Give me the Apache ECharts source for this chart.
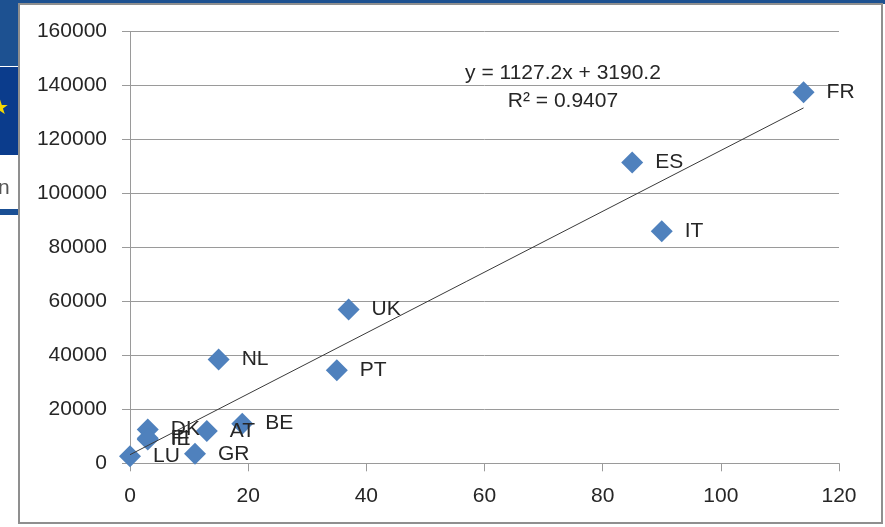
<!DOCTYPE html>
<html>
<head>
<meta charset="utf-8">
<script src="https://cdn.jsdelivr.net/npm/echarts@6/dist/echarts.min.js"></script>
<style>
html,body{margin:0;padding:0;background:#fff;}
#chart{width:885px;height:527px;}
</style>
</head>
<body>
<div id="chart"></div>
<script>
// Data
const countries = ['FR', 'ES', 'IT', 'UK', 'PT', 'NL', 'BE', 'AT', 'GR', 'DK', 'FI', 'IE', 'LU'];
const xValues   = [114, 85, 90, 37, 35, 15, 19, 13, 11, 3, 3, 3, 0];
const yValues   = [137500, 111500, 86000, 57000, 34500, 38500, 14700, 12000, 3500, 12500, 9300, 8800, 2600];
const trendSlope = 1127.2;
const trendIntercept = 3190.2;
const trendEquation = 'y = 1127.2x + 3190.2';
const trendR2 = 'R² = 0.9407';
const xTicks = [0, 20, 40, 60, 80, 100, 120];
const yTicks = [0, 20000, 40000, 60000, 80000, 100000, 120000, 140000, 160000];

const FONT = 'Liberation Sans';
const TXT = '#262626';

const points = countries.map((c, i) => [xValues[i], yValues[i], c]);
const xMin = Math.min(...xValues), xMax = Math.max(...xValues);
const trend = [[xMin, trendSlope * xMin + trendIntercept], [xMax, trendSlope * xMax + trendIntercept]];

const chart = echarts.init(document.getElementById('chart'), null, {renderer: 'canvas'});
chart.setOption({
  animation: false,
  backgroundColor: '#ffffff',
  textStyle: {fontFamily: FONT},
  grid: {left: 130, right: 46, top: 31.5, bottom: 63.7, containLabel: false},
  xAxis: {
    type: 'value', min: xTicks[0], max: xTicks[xTicks.length - 1], interval: xTicks[1] - xTicks[0],
    axisLine: {show: true, lineStyle: {color: '#9a9a9a', width: 1}},
    axisTick: {show: true, length: 8, lineStyle: {color: '#9a9a9a'}},
    axisLabel: {color: TXT, fontSize: 21, fontFamily: FONT, margin: 22, formatter: v => String(v)},
    splitLine: {show: false}
  },
  yAxis: {
    type: 'value', min: yTicks[0], max: yTicks[yTicks.length - 1], interval: yTicks[1] - yTicks[0],
    axisLine: {show: true, lineStyle: {color: '#9a9a9a', width: 1}},
    axisTick: {show: true, length: 8, lineStyle: {color: '#9a9a9a'}},
    axisLabel: {color: TXT, fontSize: 21, fontFamily: FONT, margin: 23, formatter: v => String(v)},
    splitLine: {show: true, lineStyle: {color: '#9a9a9a', width: 1}}
  },
  series: [
    {
      type: 'line', data: trend, symbol: 'none', silent: true,
      lineStyle: {color: '#3a3a3a', width: 1}, z: 3
    },
    {
      type: 'scatter', data: points, symbol: 'diamond', symbolSize: 22,
      itemStyle: {color: '#4F81BD', opacity: 1}, z: 2,
      label: {
        show: true, position: 'right', distance: 12, offset: [0, 2],
        formatter: p => p.data[2],
        color: TXT, fontSize: 21, fontFamily: FONT
      },
      labelLayout: {hideOverlap: false}
    }
  ],
  graphic: [
    // slide background pieces visible on the left and top
    {type: 'rect', shape: {x: 0, y: 0, width: 885, height: 4}, style: {fill: '#1d5191'}, z: -10, silent: true},
    {type: 'rect', shape: {x: 0, y: 0, width: 19, height: 66}, style: {fill: '#1d5191'}, z: -10, silent: true},
    {type: 'rect', shape: {x: 0, y: 67, width: 19, height: 88}, style: {fill: '#0b3c8c'}, z: -10, silent: true},
    {type: 'rect', shape: {x: 0, y: 209, width: 19, height: 6}, style: {fill: '#1a4f94'}, z: -10, silent: true},
    {type: 'text', left: -2, top: 178, style: {text: 'n', font: '21px ' + FONT, fill: '#555'}, z: -9, silent: true},
    {type: 'text', left: -9, top: 99, style: {text: '★', font: '20px DejaVu Sans', fill: '#f5d800'}, z: -9, silent: true},
    // chart area
    {type: 'rect', shape: {x: 19, y: 4, width: 863, height: 519}, style: {fill: '#ffffff', stroke: '#8f8f8f', lineWidth: 2}, z: -5, silent: true},
    // trendline label
    {type: 'text', x: 563, y: 73, style: {text: trendEquation, font: '21px ' + FONT, fill: TXT, align: 'center', verticalAlign: 'middle'}, z: 10},
    {type: 'text', x: 563, y: 101, style: {text: trendR2, font: '21px ' + FONT, fill: TXT, align: 'center', verticalAlign: 'middle'}, z: 10}
  ]
});
</script>
</body>
</html>
